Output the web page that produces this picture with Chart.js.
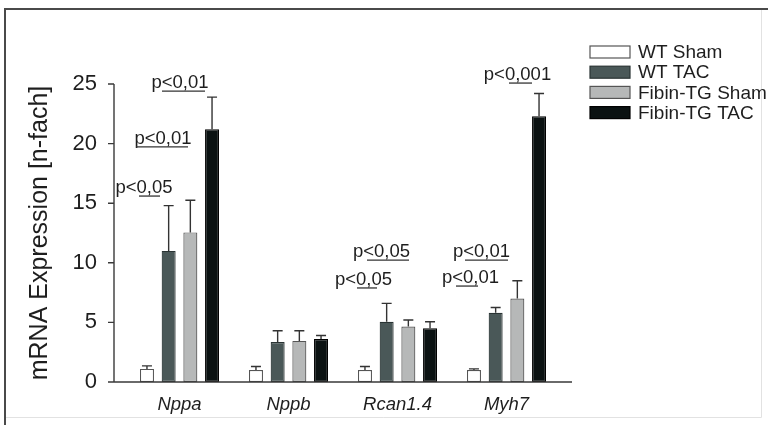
<!DOCTYPE html>
<html><head><meta charset="utf-8">
<script src="https://cdn.jsdelivr.net/npm/chart.js@4.4.1/dist/chart.umd.min.js"></script>
<style>html,body{margin:0;padding:0;background:#fff;overflow:hidden}</style>
</head><body>
<canvas id="c" width="768" height="425"></canvas>
<script>
// ---- data ----
const categories = ['Nppa', 'Nppb', 'Rcan1.4', 'Myh7'];
const seriesNames = ['WT Sham', 'WT TAC', 'Fibin-TG Sham', 'Fibin-TG TAC'];
const wtSham    = [1.1, 1.0, 1.0, 1.0];
const wtTac     = [11.0, 3.35, 5.05, 5.8];
const fibinSham = [12.55, 3.45, 4.65, 7.0];
const fibinTac  = [21.2, 3.6, 4.5, 22.3];
const wtShamErr    = [0.25, 0.3, 0.3, 0.1];
const wtTacErr     = [3.8, 0.95, 1.55, 0.45];
const fibinShamErr = [2.7, 0.85, 0.55, 1.5];
const fibinTacErr  = [2.7, 0.3, 0.55, 1.9];
const yTicks = [0, 5, 10, 15, 20, 25];
const yTitle = 'mRNA Expression [n-fach]';
// significance labels: category, y value of text centre
const sigTexts = ['p<0,05', 'p<0,01', 'p<0,01', 'p<0,05', 'p<0,05', 'p<0,01', 'p<0,01', 'p<0,001'];
const sigCats  = [0, 0, 0, 2, 2, 3, 3, 3];
const sigY     = [16.27, 20.39, 25.08, 10.9, 8.56, 10.9, 8.72, 25.75];

// ---- layout of annotations (pixel offsets from category centre) ----
const sigLayout = [
  {dx: -35.5, u0: -40.5, u1: -19.5},
  {dx: -16.5, u0: -43.5, u1: 8.5},
  {dx: 0.5,   u0: -17.5, u1: 25.5},
  {dx: -16,   u0: -30.5, u1: 11.5},
  {dx: -34,   u0: -40.5, u1: -20.5},
  {dx: -25,   u0: -41.5, u1: 1.5},
  {dx: -36,   u0: -50.5, u1: -28.5},
  {dx: 11,    u0: 2.5,   u1: 25.5}
];

const FONT = "'Liberation Sans', Arial, Helvetica, sans-serif";
const INK = '#1e1e1e';
const fills = ['#ffffff', '#4a5858', '#b6b8b8', '#0b1212'];
const borders = ['#555', '#2a3434', '#555', '#000'];
const seriesVals = [wtSham, wtTac, fibinSham, fibinTac];
const seriesErrs = [wtShamErr, wtTacErr, fibinShamErr, fibinTacErr];

const datasets = seriesNames.map((n, i) => ({
  label: n,
  data: seriesVals[i],
  err: seriesErrs[i],
  backgroundColor: fills[i],
  borderColor: borders[i],
  borderWidth: 1.2,
  borderSkipped: false,
  categoryPercentage: 0.796,
  barPercentage: 0.645
}));

const framePlugin = {
  id: 'frame',
  beforeDraw(chart) {
    const c = chart.ctx;
    c.save();
    c.fillStyle = '#fff';
    c.fillRect(0, 0, chart.width, chart.height);
    c.strokeStyle = '#e2e2e2'; c.lineWidth = 1;
    c.beginPath(); c.moveTo(761.5, 9); c.lineTo(761.5, 417.5); c.lineTo(5, 417.5); c.stroke();
    c.strokeStyle = '#4a4a4a'; c.lineWidth = 2;
    c.beginPath(); c.moveTo(5, 425); c.lineTo(5, 9); c.lineTo(768, 9); c.stroke();
    c.restore();
  }
};

const axesPlugin = {
  id: 'axesAndErrors',
  afterDatasetsDraw(chart) {
    const c = chart.ctx, ys = chart.scales.y, xs = chart.scales.x, ca = chart.chartArea;
    c.save();
    // error bars
    c.strokeStyle = '#333'; c.lineWidth = 1.4;
    chart.data.datasets.forEach((ds, i) => {
      const meta = chart.getDatasetMeta(i);
      meta.data.forEach((el, j) => {
        const v = ds.data[j], e = ds.err[j];
        const yb = ys.getPixelForValue(v), yt = ys.getPixelForValue(v + e);
        c.beginPath();
        c.moveTo(el.x, yb); c.lineTo(el.x, yt);
        c.moveTo(el.x - 5, yt); c.lineTo(el.x + 5, yt);
        c.stroke();
      });
    });
    // axes
    const ax = ca.left - 11, y0 = ys.getPixelForValue(0);
    c.strokeStyle = '#3a3a3a'; c.lineWidth = 1.4;
    c.beginPath();
    c.moveTo(ax, ys.getPixelForValue(yTicks[yTicks.length - 1]));
    c.lineTo(ax, y0);
    c.lineTo(ca.right + 11, y0);
    yTicks.forEach(t => { const p = ys.getPixelForValue(t); c.moveTo(ax - 6, p); c.lineTo(ax, p); });
    c.stroke();
    // significance labels
    c.fillStyle = INK; c.font = '18.5px ' + FONT;
    c.textAlign = 'center'; c.textBaseline = 'middle';
    c.lineWidth = 1.3; c.strokeStyle = '#333';
    sigTexts.forEach((t, k) => {
      const cx = xs.getPixelForValue(sigCats[k]);
      const py = ys.getPixelForValue(sigY[k]);
      const L = sigLayout[k];
      c.fillText(t, cx + L.dx, py);
      c.beginPath(); c.moveTo(cx + L.u0, py + 8); c.lineTo(cx + L.u1, py + 8); c.stroke();
    });
    // legend
    c.textAlign = 'left';
    c.font = '19px ' + FONT;
    chart.data.datasets.forEach((ds, i) => {
      const yc = 52 + 20.2 * i;
      c.fillStyle = ds.backgroundColor;
      c.fillRect(590, yc - 6, 40, 12);
      c.strokeStyle = ds.borderColor; c.lineWidth = 1.2;
      c.strokeRect(590, yc - 6, 40, 12);
      c.fillStyle = INK;
      c.fillText(ds.label, 638, yc + 1);
    });
    c.restore();
  }
};

new Chart(document.getElementById('c'), {
  type: 'bar',
  data: { labels: categories, datasets },
  plugins: [framePlugin, axesPlugin],
  options: {
    responsive: false,
    animation: false,
    devicePixelRatio: 1,
    layout: { padding: { top: 84, right: 207, bottom: 0, left: 0 } },
    plugins: { legend: { display: false }, tooltip: { enabled: false } },
    scales: {
      x: {
        type: 'category',
        offset: true,
        grid: { display: false, drawTicks: false },
        border: { display: false },
        ticks: { font: { family: FONT, size: 18.5, style: 'italic' }, color: INK, padding: 12 },
        afterFit(s) { s.height = 43; }
      },
      y: {
        min: 0, max: 25,
        afterBuildTicks(s) { s.ticks = yTicks.map(v => ({ value: v })); },
        grid: { display: false, drawTicks: false },
        border: { display: false },
        ticks: { font: { family: FONT, size: 22 }, color: INK, padding: 28 },
        title: { display: true, text: yTitle, font: { family: FONT, size: 25 }, color: INK, padding: { top: 25, bottom: 0 } },
        afterFit(s) { s.width = 125; }
      }
    }
  }
});
</script>
</body></html>
